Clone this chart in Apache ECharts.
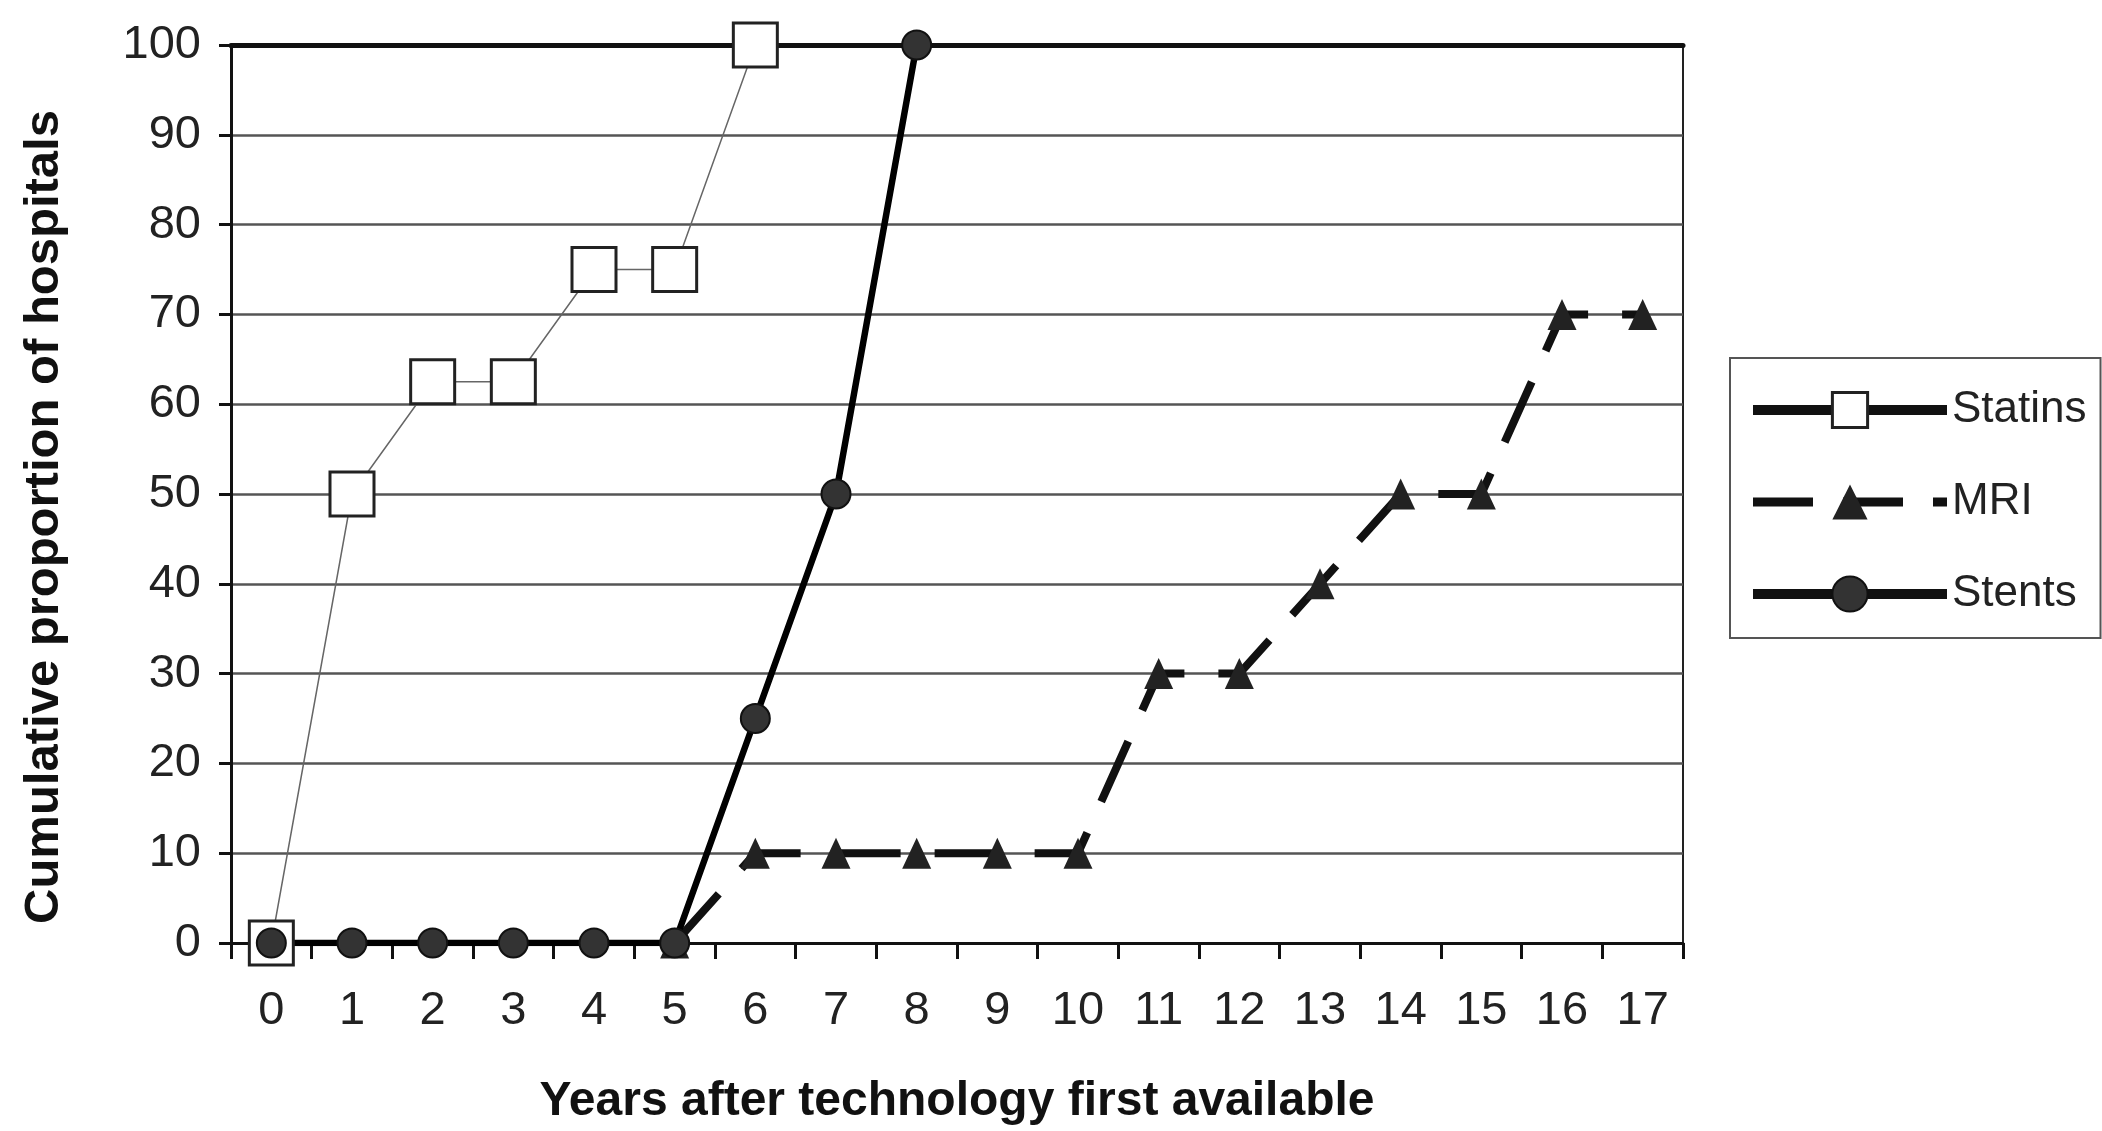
<!DOCTYPE html>
<html>
<head>
<meta charset="utf-8">
<script src="https://cdn.jsdelivr.net/npm/echarts@6/dist/echarts.min.js"></script>
<style>
    html, body { margin: 0; padding: 0; background: #fff; }
    #chartDiv { width: 2102px; height: 1131px; }
</style>
</head>
<body>
<div id="chartDiv"></div>
<script>
/* adoption curves: years after technology first available */
var years = ['0','1','2','3','4','5','6','7','8','9','10','11','12','13','14','15','16','17'];
var statinsData = [0, 50, 62.5, 62.5, 75, 75, 100];
var mriData = ['-', '-', '-', '-', '-', 0, 10, 10, 10, 10, 10, 30, 30, 40, 50, 50, 70, 70];
var stentsData = [0, 0, 0, 0, 0, 0, 25, 50, 100];

var fontName = '"Liberation Sans", Arial, sans-serif';

var chart = echarts.init(document.getElementById('chartDiv'), null, {renderer: 'canvas'});
chart.setOption({
    backgroundColor: '#fff',
    animation: false,
    grid: {
        left: 231,
        right: 419,
        top: 45,
        bottom: 185,
        show: true,
        borderColor: '#222',
        borderWidth: 2
    },
    legend: {
        orient: 'vertical',
        left: 1730,
        top: 358,
        padding: [30, 14, 22, 18],
        itemWidth: 194,
        itemHeight: 44,
        itemGap: 48,
        borderColor: '#555',
        borderWidth: 2,
        textStyle: { fontFamily: fontName, fontSize: 44, color: '#222' },
        data: [
            { name: 'Statins', lineStyle: { color: '#111', width: 10 },
              itemStyle: { color: '#fff', borderColor: '#222', borderWidth: 3 } },
            { name: 'MRI', lineStyle: { color: '#111', width: 9, type: [60, 30] },
              itemStyle: { color: '#222' } },
            { name: 'Stents', lineStyle: { color: '#111', width: 10 },
              itemStyle: { color: '#333' } }
        ]
    },
    xAxis: [
        {
            type: 'category',
            data: years,
            boundaryGap: true,
            name: 'Years after technology first available',
            nameLocation: 'middle',
            nameGap: 135,
            nameTextStyle: { fontFamily: fontName, fontSize: 48, fontWeight: 'bold', color: '#111' },
            axisLine: { lineStyle: { color: '#111', width: 3 } },
            axisTick: { show: true, length: 16, lineStyle: { color: '#111', width: 3 } },
            axisLabel: { fontFamily: fontName, fontSize: 47, color: '#222', margin: 45 }
        },
        {
            /* thick top border of the plot */
            type: 'category',
            position: 'top',
            data: years,
            axisLine: { lineStyle: { color: '#111', width: 5 } },
            axisTick: { show: false },
            axisLabel: { show: false }
        }
    ],
    yAxis: {
        type: 'value',
        min: 0,
        max: 100,
        interval: 10,
        name: 'Cumulative proportion of hospitals',
        nameLocation: 'middle',
        nameRotate: 90,
        nameGap: 162,
        nameTextStyle: { fontFamily: fontName, fontSize: 49, fontWeight: 'bold', color: '#111',
                         padding: [0, 46, 0, 0] },
        axisLine: { show: true, lineStyle: { color: '#111', width: 3 } },
        axisTick: { show: true, length: 12, lineStyle: { color: '#111', width: 3 } },
        axisLabel: { fontFamily: fontName, fontSize: 47, color: '#222', margin: 30 },
        splitLine: { show: true, lineStyle: { color: '#555', width: 2.5 } }
    },
    series: [
        {
            name: 'Statins',
            type: 'line',
            data: statinsData,
            symbol: 'rect',
            symbolSize: 44,
            lineStyle: { color: '#666', width: 1.5 },
            itemStyle: { color: '#fff', borderColor: '#222', borderWidth: 3 }
        },
        {
            name: 'MRI',
            type: 'line',
            data: mriData,
            symbol: 'triangle',
            symbolSize: [29, 31],
            lineStyle: { color: '#111', width: 8, type: [66, 34] },
            itemStyle: { color: '#222' }
        },
        {
            name: 'Stents',
            type: 'line',
            data: stentsData,
            symbol: 'circle',
            symbolSize: 29,
            lineStyle: { color: '#000', width: 6.5 },
            itemStyle: { color: '#333', borderColor: '#111', borderWidth: 2 }
        }
    ]
});
</script>
</body>
</html>
